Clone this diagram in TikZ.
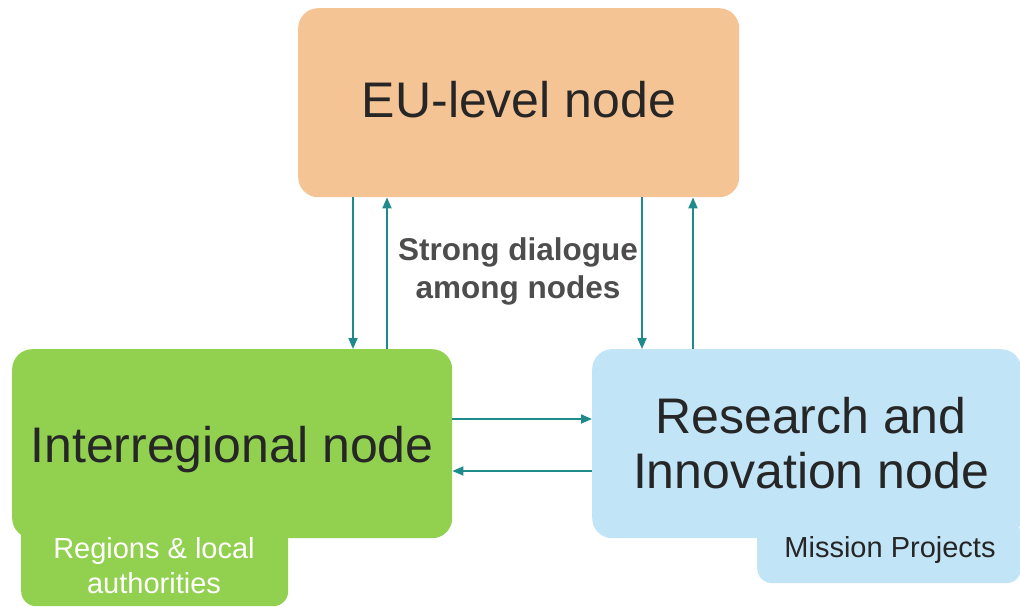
\documentclass[tikz,border=0pt]{standalone}
\usepackage{fontspec}
\setmainfont{Liberation Sans}
\usetikzlibrary{arrows.meta}
\definecolor{eufill}{HTML}{F4C495}
\definecolor{irfill}{HTML}{92D050}
\definecolor{rifill}{HTML}{C2E4F7}
\definecolor{linkcol}{HTML}{1F8A8C}
\definecolor{ink}{HTML}{262626}
\definecolor{notecol}{HTML}{4D4D4D}

\begin{document}
\begin{tikzpicture}[x=1pt,y=-1pt,
  box/.style={rounded corners=20pt, inner sep=0pt, anchor=north west},
  subbox/.style={rounded corners=15pt, inner sep=0pt, anchor=north west},
  link/.style={draw=linkcol, line width=1.8pt, -{Triangle[length=11pt,width=9pt]}},
  big/.style={font=\fontsize{50}{55}\selectfont, text=ink, anchor=base, align=center, inner sep=0pt},
  small/.style={font=\fontsize{29}{35}\selectfont, anchor=base, align=center, inner sep=0pt},
  note/.style={font=\fontsize{31.5}{38}\selectfont\bfseries, text=notecol, anchor=base, align=center, inner sep=0pt},
]
\useasboundingbox (0,0) rectangle (1020,607);

% tabs carrying the sub-labels, drawn behind the main boxes
\node[subbox, fill=irfill, minimum width=267pt, minimum height=86pt] (irsub) at (21,520) {};
\node[subbox, fill=rifill, minimum width=264pt, minimum height=63pt] (risub) at (757,520) {};

% main boxes
\node[box, fill=eufill, minimum width=441pt, minimum height=189pt] (eu) at (298,8) {};
\node[box, fill=irfill, minimum width=440pt, minimum height=189pt] (ir) at (12,349) {};
\node[box, fill=rifill, minimum width=429pt, minimum height=189pt] (ri) at (592,349) {};

% box titles (base anchor sits on the last line)
\node[big] (eut) at (519,118) {EU-level node};
\node[big] (irt) at (232,462) {Interregional node};
\node[big] (rit) at (811,488) {Research and\\Innovation node};

% tab labels
\node[small, text=white] (irst) at (154,593) {Regions \& local\\authorities};
\node[small, text=ink] (rist) at (890,557) {Mission Projects};

% central note
\node[note] (dialogue) at (518,298) {Strong dialogue\\among nodes};

% vertical links between the EU-level node and the two lower nodes
\draw[link] ([xshift=55pt]eu.south west) -- ([xshift=55pt]eu.south west |- ir.north);
\draw[link] ([xshift=89pt]eu.south west |- ir.north) -- ([xshift=89pt]eu.south west);
\draw[link] ([xshift=344pt]eu.south west) -- ([xshift=344pt]eu.south west |- ri.north);
\draw[link] ([xshift=395pt]eu.south west |- ri.north) -- ([xshift=395pt]eu.south west);

% horizontal links between the two lower nodes
\draw[link] ([yshift=-70pt]ir.north east) -- ([yshift=-70pt]ir.north east -| ri.west);
\draw[link] ([yshift=-122pt]ir.north east -| ri.west) -- ([yshift=-122pt]ir.north east);
\end{tikzpicture}
\end{document}
